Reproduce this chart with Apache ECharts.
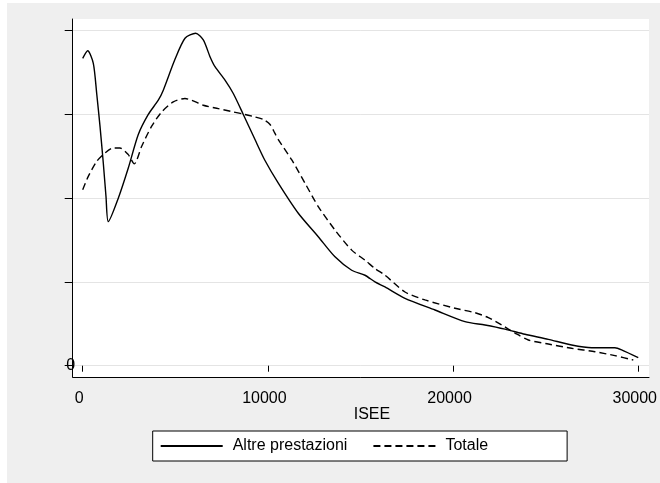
<!DOCTYPE html>
<html><head><meta charset="utf-8">
<script src="https://cdn.jsdelivr.net/npm/echarts@6/dist/echarts.min.js"></script>
<style>html,body{margin:0;padding:0;background:#fff;width:660px;height:483px;overflow:hidden}
#c{position:absolute;left:7px;top:3px;width:653px;height:480px}</style>
</head><body><div id="c"></div>
<script>
const xTicks = [0, 10000, 20000, 30000];
const yTicks = [0, 1, 2, 3, 4];
const yTickLabels = ['0', '', '', '', ''];
const xAxisTitle = 'ISEE';
const seriesNames = ['Altre prestazioni', 'Totale'];

const altreX = [0, 270, 573, 756, 934, 1112, 1258, 1382, 1922, 2462, 3002, 3542, 4082, 4352, 4968, 5524, 6100, 6512, 6874, 7144, 7684, 8132, 8672, 9304, 9844, 10562, 11642, 12721, 13623, 14525, 15243, 15783, 16323, 17403, 19023, 20643, 21723, 22803, 23883, 25143, 26403, 27483, 28741, 29101, 30000];
const altreY = [3.67, 3.76, 3.61, 3.25, 2.86, 2.42, 2.02, 1.72, 2.00, 2.36, 2.76, 3.00, 3.17, 3.29, 3.65, 3.91, 3.97, 3.89, 3.69, 3.57, 3.41, 3.25, 3.00, 2.70, 2.45, 2.18, 1.82, 1.54, 1.30, 1.14, 1.08, 1.00, 0.94, 0.805, 0.665, 0.526, 0.486, 0.437, 0.375, 0.315, 0.247, 0.215, 0.215, 0.19, 0.096];

const totaleX = [0, 302, 756, 1204, 1652, 2014, 2462, 2786, 3186, 3726, 4266, 4892, 5524, 5885, 6512, 7322, 8132, 8763, 9304, 9755, 10117, 10367, 10562, 11282, 12003, 12721, 13623, 14525, 15243, 15783, 16323, 17403, 18483, 20103, 21183, 21903, 22623, 23343, 24063, 25143, 26403, 27663, 28741, 29731];
const totaleY = [2.10, 2.26, 2.44, 2.54, 2.60, 2.60, 2.52, 2.41, 2.62, 2.86, 3.03, 3.15, 3.19, 3.17, 3.11, 3.07, 3.03, 3.00, 2.97, 2.94, 2.88, 2.78, 2.70, 2.46, 2.18, 1.90, 1.62, 1.38, 1.26, 1.16, 1.08, 0.88, 0.785, 0.686, 0.633, 0.574, 0.486, 0.39, 0.307, 0.259, 0.208, 0.167, 0.12, 0.068];

const pair = (xs, ys) => xs.map((x, i) => [x, ys[i]]);
const FONT = '"Liberation Sans", Arial, Helvetica, sans-serif';
const chart = echarts.init(document.getElementById('c'), null, {renderer: 'canvas'});
chart.setOption({
  backgroundColor: '#efefef',
  animation: false,
  textStyle: {fontFamily: FONT},
  grid: [
    {left: 65.7, top: 16, right: 11, bottom: 106, show: true, backgroundColor: '#fff', borderWidth: 0},
    {left: 65.7, top: 27.7, right: 11, bottom: 117.3},
    {left: 75.7, top: 27.7, right: 21.7, bottom: 117.3}
  ],
  xAxis: [
    {gridIndex: 0, type: 'value', min: 0, max: 1,
     axisLine: {show: true, onZero: false, lineStyle: {color: '#000', width: 1}},
     axisTick: {show: false}, axisLabel: {show: false}, splitLine: {show: false}},
    {gridIndex: 1, type: 'value', min: 0, max: 1, show: false},
    {gridIndex: 2, type: 'value', min: xTicks[0], max: xTicks[xTicks.length - 1], interval: xTicks[1] - xTicks[0],
     offset: 11.3,
     axisLine: {show: false},
     axisTick: {show: true, length: 6, lineStyle: {color: '#000', width: 1}},
     axisLabel: {show: true, color: '#000', fontSize: 16, fontFamily: FONT, margin: 14, padding: [0, 7, 0, 0],
       formatter: v => String(v)},
     splitLine: {show: false},
     name: xAxisTitle, nameLocation: 'middle', nameGap: 30, nameMoveOverlap: false,
     nameTextStyle: {color: '#000', fontSize: 16, fontFamily: FONT, padding: [0, 0, 0, 23]}}
  ],
  yAxis: [
    {gridIndex: 0, type: 'value', min: 0, max: 1,
     axisLine: {show: true, onZero: false, lineStyle: {color: '#000', width: 1}},
     axisTick: {show: false}, axisLabel: {show: false}, splitLine: {show: false}},
    {gridIndex: 1, type: 'value', min: yTicks[0], max: yTicks[yTicks.length - 1], interval: yTicks[1] - yTicks[0],
     axisLine: {show: false},
     axisTick: {show: true, length: 8, lineStyle: {color: '#000', width: 1}},
     axisLabel: {show: true, color: '#000', fontSize: 16, fontFamily: FONT, align: 'center', margin: 2,
       formatter: v => { const i = yTicks.indexOf(v); return i >= 0 ? yTickLabels[i] : ''; }},
     splitLine: {show: true, lineStyle: {color: '#e4e4e4', width: 1}}},
    {gridIndex: 2, type: 'value', min: yTicks[0], max: yTicks[yTicks.length - 1], show: false}
  ],
  legend: {
    left: 145.7, top: 428, orient: 'horizontal',
    backgroundColor: '#fff', borderColor: '#000', borderWidth: 1, borderRadius: 0,
    padding: [6, 79, 6, 7],
    itemWidth: 62, itemHeight: 14, itemGap: 25,
    itemStyle: {opacity: 0},
    textStyle: {fontSize: 16, color: '#000', fontFamily: FONT, padding: [0, 0, 0, 5], lineHeight: 18},
    data: seriesNames
  },
  series: [
    {type: 'line', name: seriesNames[0], xAxisIndex: 2, yAxisIndex: 2, data: pair(altreX, altreY),
     symbol: 'none', showSymbol: false, smooth: 0.25,
     lineStyle: {color: '#000', width: 1.4, type: 'solid'}, itemStyle: {color: '#000'}},
    {type: 'line', name: seriesNames[1], xAxisIndex: 2, yAxisIndex: 2, data: pair(totaleX, totaleY),
     symbol: 'none', showSymbol: false, smooth: 0.25,
     lineStyle: {color: '#000', width: 1.4, type: [7, 4]}, itemStyle: {color: '#000'}}
  ]
});
</script></body></html>
